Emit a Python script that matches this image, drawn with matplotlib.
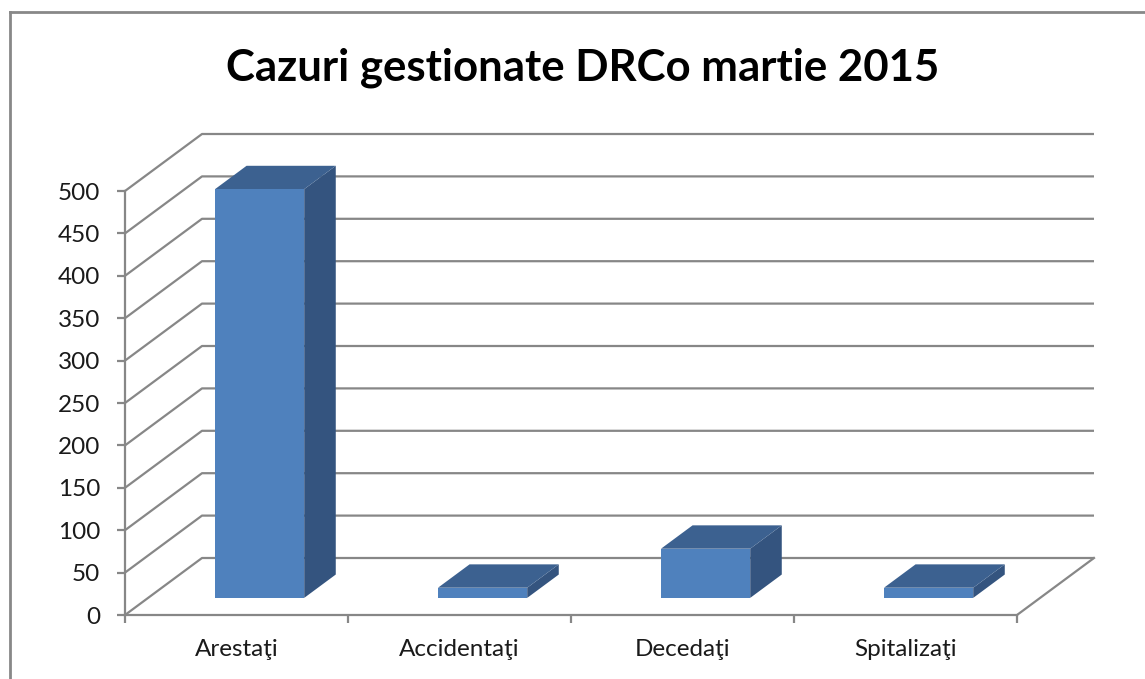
import matplotlib.pyplot as plt
from matplotlib.patches import Polygon
from matplotlib.lines import Line2D

# data
categories = ['Arestaţi', 'Accidentaţi', 'Decedaţi', 'Spitalizaţi']
values = [482, 12, 58, 12]
yticks = list(range(0, 501, 50))
title = 'Cazuri gestionate DRCo martie 2015'

plt.rcParams['font.family'] = ['Lato', 'DejaVu Sans']

W, H = 1145, 679
fig = plt.figure(figsize=(W / 100, H / 100), dpi=100)
fig.patch.set_facecolor('white')

# pixel geometry of the pseudo 3D frame
x0_px, y0_px = 125, 615          # front-left corner of the floor (px from top-left)
cat_px = 223                     # width of a category in px
val_px = 424 / 500               # px per value unit
depth_dx = 77 / cat_px           # back wall offset, category units
depth_dy = 57 / val_px           # back wall offset, value units

ax = fig.add_axes([0, 0, 1, 1])
ax.set_xlim(-x0_px / cat_px, (W - x0_px) / cat_px)
ax.set_ylim(-(H - y0_px) / val_px, y0_px / val_px)
ax.patch.set_alpha(0)

grid_c = '#878787'
lw = 1.6
n = len(categories)

# back wall gridlines with diagonals
for v in yticks:
    ax.plot([0, depth_dx, n + depth_dx], [v, v + depth_dy, v + depth_dy],
            color=grid_c, lw=lw, zorder=1, solid_capstyle='butt')
# floor right edge
ax.plot([n, n + depth_dx], [0, depth_dy], color=grid_c, lw=lw, zorder=1)

# bars
front_c, top_c, side_c = '#4F81BD', '#3C6190', '#34547F'
bw = 0.40
d0, d1 = 0.30, 0.71
for i, v in enumerate(values):
    xl = i + 0.5 - bw / 2 + d0 * depth_dx
    xr = xl + bw
    yb = d0 * depth_dy
    yt = v + d0 * depth_dy
    ddx = (d1 - d0) * depth_dx
    ddy = (d1 - d0) * depth_dy
    front = Polygon([(xl, yb), (xr, yb), (xr, yt), (xl, yt)], closed=True,
                    facecolor=front_c, edgecolor='none', zorder=3)
    top = Polygon([(xl, yt), (xr, yt), (xr + ddx, yt + ddy), (xl + ddx, yt + ddy)],
                  closed=True, facecolor=top_c, edgecolor='none', zorder=3)
    side = Polygon([(xr, yb), (xr + ddx, yb + ddy), (xr + ddx, yt + ddy), (xr, yt)],
                   closed=True, facecolor=side_c, edgecolor='none', zorder=3)
    for p in (side, top, front):
        ax.add_patch(p)

# front axes
for s in ('top', 'right'):
    ax.spines[s].set_visible(False)
ax.spines['left'].set_position(('data', 0))
ax.spines['left'].set_bounds(0, 500)
ax.spines['bottom'].set_position(('data', 0))
ax.spines['bottom'].set_bounds(0, n)
for s in ('left', 'bottom'):
    ax.spines[s].set_color(grid_c)
    ax.spines[s].set_linewidth(lw)
    ax.spines[s].set_zorder(2)

ax.set_yticks(yticks)
ax.set_yticklabels([str(t) for t in yticks], fontsize=17.5, color='#1a1a1a')
ax.tick_params(axis='y', length=6, width=lw, color=grid_c, pad=12, direction='out')

ax.set_xticks(range(n + 1))
ax.set_xticklabels([''] * (n + 1))
ax.set_xticks([i + 0.5 for i in range(n)], minor=True)
ax.set_xticklabels(categories, minor=True, fontsize=17.5, color='#1a1a1a')
ax.tick_params(axis='x', which='major', length=6, width=lw, color=grid_c, direction='out')
ax.tick_params(axis='x', which='minor', length=0, pad=17)

# title
fig.text(583 / W, 1 - 68 / H, title, ha='center', va='center',
         fontsize=31.5, fontweight='bold', color='black')

# chart border (left and top edges visible)
fig.add_artist(Line2D([10 / W, 10 / W], [0, 1 - 12 / H], transform=fig.transFigure,
                      color='#888888', lw=2))
fig.add_artist(Line2D([10 / W, 1], [1 - 12 / H, 1 - 12 / H], transform=fig.transFigure,
                      color='#888888', lw=2))

fig.savefig('out.png', dpi=100)
